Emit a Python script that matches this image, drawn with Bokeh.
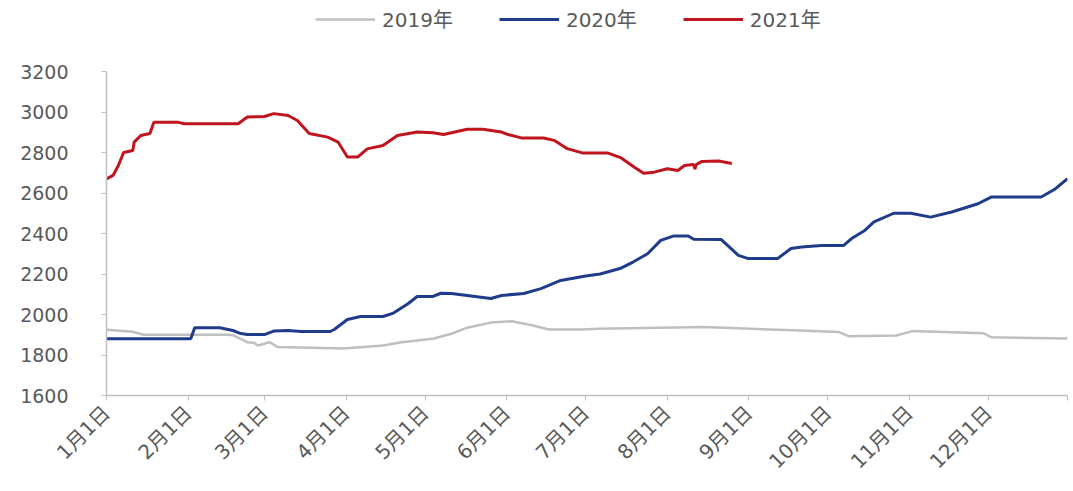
from bokeh.plotting import figure
from bokeh.models import Legend, LegendItem, FixedTicker, Range1d
from bokeh.layouts import column
from bokeh.embed import file_html
from bokeh.resources import INLINE
import math

# tick positions (day of year) and labels
tick_days = [0, 31, 60, 91, 121, 152, 182, 213, 244, 274, 305, 335, 365]
tick_labels = ["1月1日", "2月1日", "3月1日", "4月1日", "5月1日", "6月1日", "7月1日",
               "8月1日", "9月1日", "10月1日", "11月1日", "12月1日", ""]

# 2019
d2019 = [0, 10, 14, 46, 48, 53.5, 56, 57.5, 62, 65, 90, 105, 112, 124, 131, 137, 146,
         154, 162, 168, 180, 187, 227, 261, 278, 282, 300, 306, 333, 336, 365]
v2019 = [1925, 1915, 1900, 1900, 1898, 1863, 1860, 1847, 1863, 1839, 1832, 1847, 1863,
         1880, 1905, 1935, 1960, 1967, 1946, 1926, 1926, 1930, 1938, 1922, 1914, 1892,
         1896, 1918, 1908, 1888, 1881]

# 2020
d2020 = [0, 32, 33.5, 43, 48, 51, 53.5, 60, 63.5, 69, 74, 85, 86.5, 91.5, 96.5, 105, 109,
         114.5, 118, 124, 127, 131, 137, 146, 150, 158.5, 165, 172.5, 182, 187.5, 195, 200,
         205.5, 210.5, 215.5, 221, 223, 233.5, 240, 243.5, 255, 260, 264, 271.5, 280, 283,
         288, 291.5, 299, 305.5, 313, 321, 331, 336, 355, 360, 365]
v2020 = [1880, 1880, 1935, 1935, 1921, 1906, 1901, 1901, 1918, 1921, 1916, 1916, 1926,
         1975, 1990, 1990, 2007, 2053, 2089, 2089, 2105, 2104, 2094, 2079, 2094, 2104,
         2128, 2168, 2190, 2200, 2227, 2259, 2300, 2366, 2388, 2388, 2372, 2370, 2292,
         2277, 2277, 2326, 2333, 2341, 2341, 2375, 2415, 2457, 2500, 2500, 2481, 2506,
         2547, 2580, 2580, 2617, 2671]

# 2021
d2021 = [0, 2.5, 4.5, 6.5, 10, 10.5, 13, 16.5, 18, 27, 29.5, 50, 53.5, 60, 63.5, 69,
         72.5, 77, 84, 88, 91.5, 95.5, 99, 105, 110.5, 118, 124, 128, 137, 143, 150,
         152.5, 157.5, 166, 170, 175, 181, 190.5, 195.5, 200.5, 204, 208, 213, 217,
         219.5, 223, 223.5, 224, 226, 232.5, 237.5]
v2021 = [2670, 2687, 2736, 2800, 2810, 2851, 2884, 2894, 2950, 2950, 2942, 2942, 2975,
         2978, 2992, 2983, 2958, 2894, 2876, 2851, 2778, 2778, 2818, 2835, 2884, 2901,
         2898, 2889, 2915, 2915, 2901, 2889, 2872, 2872, 2860, 2819, 2797, 2797, 2773,
         2727, 2697, 2703, 2720, 2711, 2736, 2741, 2718, 2741, 2755, 2758, 2746]

series_names = ["2019年", "2020年", "2021年"]
colors = ["#BFBFBF", "#1F3C8A", "#C0141E"]
widths = [2.5, 3, 3]

FONT = "DejaVu Sans, Noto Sans CJK SC"
W = 1069

# legend strip (its frame is aligned with the main chart's frame)
leg = figure(width=W, height=55, output_backend="svg", toolbar_location=None,
             x_range=Range1d(0, 1), y_range=Range1d(0, 1),
             x_axis_location=None, y_axis_location=None,
             min_border_left=0, min_border_right=0, min_border_top=0, min_border_bottom=0)
leg.outline_line_color = None
leg.xgrid.visible = False
leg.ygrid.visible = False
# legend-only renderers, placed outside the visible range
dummies = [leg.line([5, 6], [5, 6], line_color=c, line_width=w) for c, w in zip(colors, widths)]
legend = Legend(items=[LegendItem(label=n, renderers=[r]) for n, r in zip(series_names, dummies)],
                orientation="horizontal", location=(209, 22),
                glyph_width=60, glyph_height=20, label_standoff=7, spacing=46,
                label_text_color="#595959", label_text_font=FONT,
                label_text_font_size="20px", border_line_color=None,
                background_fill_alpha=0, padding=0, margin=0)
leg.add_layout(legend, "center")

# main chart
p = figure(width=W, height=430, output_backend="svg", toolbar_location=None,
           x_range=Range1d(0, 365), y_range=Range1d(1600, 3200),
           min_border_left=106, min_border_right=2, min_border_top=16, min_border_bottom=90)
p.outline_line_color = None
p.xgrid.visible = False
p.ygrid.visible = False

p.line(d2019, v2019, line_color=colors[0], line_width=widths[0])
p.line(d2020, v2020, line_color=colors[1], line_width=widths[1])
p.line(d2021, v2021, line_color=colors[2], line_width=widths[2])

ax = p.xaxis[0]
ax.ticker = FixedTicker(ticks=tick_days)
ax.major_label_overrides = {d: l for d, l in zip(tick_days, tick_labels)}
ax.major_label_orientation = math.pi / 4
ax.minor_tick_line_color = None
ax.major_tick_in = 0
ax.major_tick_out = 5
ax.axis_line_color = "#BFBFBF"
ax.axis_line_width = 1.5
ax.major_tick_line_color = "#BFBFBF"
ax.major_label_text_color = "#595959"
ax.major_label_text_font = FONT
ax.major_label_text_font_size = "20px"
ax.major_label_standoff = 9

ay = p.yaxis[0]
ay.ticker = FixedTicker(ticks=list(range(1600, 3201, 200)))
ay.minor_tick_line_color = None
ay.major_tick_in = 0
ay.major_tick_out = 5
ay.axis_line_color = "#BFBFBF"
ay.axis_line_width = 1.5
ay.major_tick_line_color = "#BFBFBF"
ay.major_label_text_color = "#595959"
ay.major_label_text_font = FONT
ay.major_label_text_font_size = "19px"
ay.major_label_standoff = 33

layout = column(leg, p, spacing=0)
open("out.html", "w").write(file_html(layout, INLINE))
